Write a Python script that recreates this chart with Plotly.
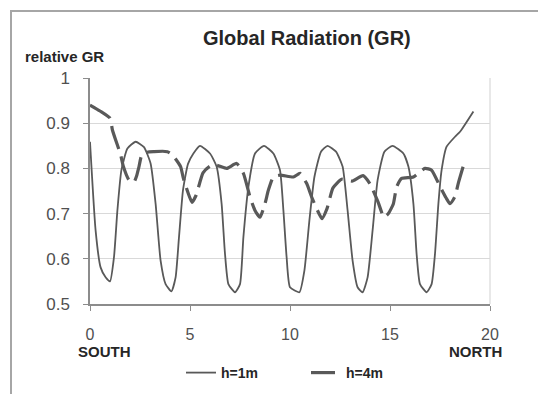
import plotly.graph_objects as go

# h=1m (solid)
x_h1 = [0, 0.28, 0.53, 0.78, 1.0, 1.2, 1.37, 1.57, 1.87, 2.28, 2.7, 3.03, 3.28, 3.53, 3.78, 4.07,
        4.28, 4.45, 4.65, 4.9, 5.17, 5.5, 6.0, 6.33, 6.58, 6.75, 6.92, 7.25, 7.5, 7.67, 7.92, 8.25,
        8.7, 9.17, 9.5, 9.67, 9.83, 10.0, 10.47, 10.72, 10.97, 11.22, 11.55, 11.88, 12.3, 12.63,
        12.88, 13.13, 13.38, 13.63, 13.88, 14.13, 14.38, 14.72, 15.13, 15.67, 15.92, 16.17, 16.33,
        16.5, 16.83, 17.08, 17.25, 17.42, 17.58, 17.83, 18.25, 18.5, 19.17]
y_h1 = [0.859, 0.663, 0.581, 0.559, 0.55, 0.604, 0.707, 0.796, 0.844, 0.859, 0.847, 0.811, 0.722,
        0.596, 0.544, 0.528, 0.559, 0.648, 0.752, 0.81, 0.833, 0.85, 0.833, 0.804, 0.722, 0.611,
        0.544, 0.526, 0.544, 0.648, 0.759, 0.833, 0.85, 0.833, 0.796, 0.707, 0.604, 0.537, 0.526,
        0.574, 0.685, 0.781, 0.837, 0.85, 0.837, 0.804, 0.707, 0.596, 0.537, 0.526, 0.559, 0.663,
        0.774, 0.837, 0.85, 0.833, 0.804, 0.722, 0.611, 0.544, 0.526, 0.544, 0.611, 0.722, 0.796,
        0.848, 0.87, 0.881, 0.926]

# h=4m (dashed)
x_h4 = [0, 0.5, 1.0, 1.12, 1.53, 1.67, 1.95, 2.2, 2.33, 2.45, 2.62, 3.2, 3.87, 4.12, 4.53, 4.67,
        5.1, 5.3, 5.65, 6.0, 6.33, 6.83, 7.33, 7.67, 8.0, 8.25, 8.5, 8.75, 8.92, 9.17, 9.5, 10.17,
        10.5, 10.83, 11.1, 11.6, 11.85, 12.15, 12.58, 13.1, 13.65, 14.0, 14.4, 14.7, 14.92, 15.17,
        15.33, 15.58, 16.17, 16.75, 17.08, 17.5, 17.8, 18.0, 18.25, 18.42, 18.75]
y_h4 = [0.94, 0.927, 0.911, 0.885, 0.83, 0.804, 0.774, 0.77, 0.783, 0.804, 0.833, 0.837, 0.837,
        0.83, 0.804, 0.778, 0.725, 0.74, 0.79, 0.805, 0.807, 0.80, 0.811, 0.789, 0.737, 0.707,
        0.692, 0.722, 0.752, 0.781, 0.785, 0.781, 0.789, 0.767, 0.735, 0.689, 0.711, 0.757, 0.776,
        0.772, 0.784, 0.766, 0.726, 0.692, 0.70, 0.722, 0.759, 0.778, 0.781, 0.80, 0.796, 0.76,
        0.735, 0.722, 0.738, 0.768, 0.818]

x_ticks = [0, 5, 10, 15, 20]
y_ticks = [0.5, 0.6, 0.7, 0.8, 0.9, 1]

FONT = "Liberation Sans, Arial, sans-serif"
LINE_COL = "#595959"
TXT = "#262626"
TICK_TXT = "#505050"

fig = go.Figure()
fig.add_trace(go.Scatter(x=x_h1, y=y_h1, mode="lines", name="h=1m",
                         line=dict(color=LINE_COL, width=1.8, shape="spline", smoothing=0.5)))
fig.add_trace(go.Scatter(x=x_h4, y=y_h4, mode="lines", name="h=4m",
                         line=dict(color=LINE_COL, width=3.2, dash="24px,8px",
                                   shape="spline", smoothing=0.5)))

W, H = 538, 394
L, R, T, B = 90, 48, 78, 90
pw, ph = W - L - R, H - T - B


def px2paper_x(px):
    return (px - L) / pw


def px2paper_y(py):
    return (H - B - py) / ph


def label(text, px, py, size):
    return dict(text=text, xref="paper", yref="paper", x=px2paper_x(px), y=px2paper_y(py),
                xanchor="center", yanchor="middle", showarrow=False,
                font=dict(size=size, family=FONT, color=TXT))


fig.update_layout(
    width=W, height=H,
    margin=dict(l=L, r=R, t=T, b=B, autoexpand=False),
    paper_bgcolor="white", plot_bgcolor="white",
    font=dict(family=FONT, color=TICK_TXT),
    showlegend=True,
    legend=dict(orientation="h", x=px2paper_x(181), xanchor="left",
                y=px2paper_y(373), yanchor="middle",
                font=dict(size=14, family=FONT, color=TXT, weight="bold"),
                itemwidth=30, entrywidthmode="pixels", entrywidth=80,
                bgcolor="rgba(0,0,0,0)"),
    xaxis=dict(range=[0, 20], tickvals=x_ticks, showgrid=False, zeroline=False,
               showline=True, linecolor="#8c8c8c", linewidth=1.5,
               ticks="outside", ticklen=5, tickcolor="#8c8c8c",
               tickfont=dict(size=16, family=FONT, color=TICK_TXT),
               ticklabelstandoff=10, fixedrange=True),
    yaxis=dict(range=[0.5, 1], tickvals=y_ticks, showgrid=True, gridcolor="#d9d9d9",
               gridwidth=1.2, zeroline=False,
               showline=True, linecolor="#8c8c8c", linewidth=1.5,
               ticks="outside", ticklen=5, tickcolor="#8c8c8c",
               tickfont=dict(size=17, family=FONT, color=TICK_TXT),
               ticklabelstandoff=10, fixedrange=True),
    shapes=[
        dict(type="line", xref="paper", yref="paper", x0=1, x1=1, y0=0, y1=1,
             line=dict(color="#d9d9d9", width=1.2)),
        dict(type="rect", xref="paper", yref="paper",
             x0=px2paper_x(11), x1=px2paper_x(560), y0=px2paper_y(420), y1=px2paper_y(11),
             line=dict(color="#a6a6a6", width=2), layer="below"),
    ],
    annotations=[
        label("<b>Global Radiation (GR)</b>", 307, 38, 20),
        label("<b>relative GR</b>", 64, 57, 15),
        label("<b>SOUTH</b>", 104, 351, 15),
        label("<b>NORTH</b>", 475, 351, 15),
    ],
)

fig.write_html("out.html")
